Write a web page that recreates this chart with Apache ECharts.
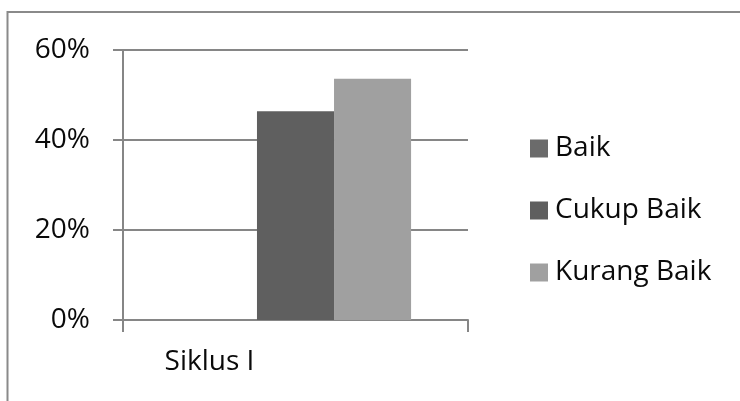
<!DOCTYPE html>
<html>
<head>
<meta charset="utf-8">
<script src="https://cdn.jsdelivr.net/npm/echarts@6/dist/echarts.min.js"></script>
<style>
  html, body { margin: 0; padding: 0; background: #fff; }
  #chart { width: 740px; height: 401px; }
</style>
</head>
<body>
<div id="chart"></div>
<script>
// Hasil penilaian per siklus (persen)
const categories = ['Siklus I'];
const seriesNames = ['Baik', 'Cukup Baik', 'Kurang Baik'];
const baik = [0];
const cukupBaik = [46.4];
const kurangBaik = [53.6];
const yTicks = { min: 0, max: 60, interval: 20 };

const colors = ['#6b6b6b', '#5f5f5f', '#a0a0a0'];
const values = [baik, cukupBaik, kurangBaik];
const FONT = '"Open Sans", sans-serif';

const chart = echarts.init(document.getElementById('chart'));
chart.setOption({
  animation: false,
  backgroundColor: '#ffffff',
  graphic: [{
    type: 'rect',
    shape: { x: 7.5, y: 12, width: 800, height: 500 },
    style: { fill: 'none', stroke: '#8a8a8a', lineWidth: 2 },
    silent: true
  }],
  grid: { left: 123, right: 272, top: 50, bottom: 81 },
  legend: {
    orient: 'vertical',
    left: 525,
    top: 128,
    itemWidth: 18,
    itemHeight: 18,
    itemGap: 31,
    icon: 'rect',
    data: seriesNames,
    textStyle: { fontFamily: FONT, fontSize: 28, color: '#0a0a0a', lineHeight: 31, padding: [0, 0, 0, 2] }
  },
  xAxis: {
    type: 'category',
    data: categories,
    axisLine: { lineStyle: { color: '#868686', width: 2 } },
    axisTick: { show: true, length: 12, lineStyle: { color: '#868686', width: 2 } },
    axisLabel: { fontFamily: FONT, fontSize: 28, color: '#0a0a0a', margin: 28, padding: [0, 172, 0, 0] }
  },
  yAxis: {
    type: 'value',
    min: yTicks.min,
    max: yTicks.max,
    interval: yTicks.interval,
    axisLine: { show: true, lineStyle: { color: '#868686', width: 2 } },
    axisTick: { show: true, length: 10, lineStyle: { color: '#868686', width: 2 } },
    splitLine: { lineStyle: { color: '#868686', width: 2 } },
    axisLabel: { fontFamily: FONT, fontSize: 28, color: '#0a0a0a', margin: 33, formatter: '{value}%' }
  },
  series: seriesNames.map((name, i) => ({
    name,
    type: 'bar',
    data: values[i],
    barGap: '0%',
    barCategoryGap: '33%',
    itemStyle: { color: colors[i] }
  }))
});
</script>
</body>
</html>
